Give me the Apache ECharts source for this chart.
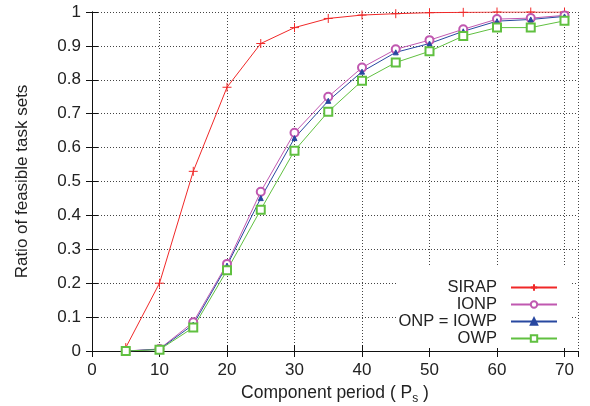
<!DOCTYPE html>
<html>
<head>
<meta charset="utf-8">
<script src="https://cdn.jsdelivr.net/npm/echarts@6/dist/echarts.min.js"></script>
<style>
  html, body { margin: 0; padding: 0; background: #fff; }
  #chart { width: 590px; height: 406px; }
</style>
</head>
<body>
<div id="chart"></div>
<script>
const periods = [5, 10, 15, 20, 25, 30, 35, 40, 45, 50, 55, 60, 65, 70];

const sirap = [0.01, 0.2, 0.53, 0.778, 0.907, 0.954, 0.981, 0.991, 0.995, 0.998, 0.999, 1, 1, 1];
const ionp = [0, 0.006, 0.085, 0.257, 0.47, 0.644, 0.75, 0.836, 0.89, 0.917, 0.949, 0.979, 0.982, 0.99];
const onpIowp = [0, 0.005, 0.078, 0.252, 0.451, 0.628, 0.738, 0.824, 0.881, 0.907, 0.943, 0.973, 0.978, 0.987];
const owp = [0, 0.004, 0.069, 0.238, 0.417, 0.591, 0.706, 0.797, 0.851, 0.884, 0.929, 0.954, 0.954, 0.974];

const seriesNames = ["SIRAP", "IONP", "ONP = IOWP", "OWP"];
const seriesColors = ["#f02828", "#c058b0", "#2848a0", "#60c040"];

const FONT = "Liberation Sans";
const TEXT_COLOR = "#222";

// '+' marker like gnuplot
const PLUS = "path://M5,0L5,10M0,5L10,5";

const toPairs = (values) => values.map((v, i) => [periods[i], v]);

const chart = echarts.init(document.getElementById("chart"), null, { renderer: "canvas" });

const borderAxis = {
  axisLine: { show: true, lineStyle: { color: "#111", width: 1 } },
  axisTick: { show: true, inside: true, length: 6, lineStyle: { color: "#111" } },
  splitLine: { show: false },
};

const gridLine = { show: true, lineStyle: { color: "#444", width: 1, type: [1, 2] } };

const makeSeries = (name, values, idx, symbol, size) => ({
  name,
  type: "line",
  data: toPairs(values),
  symbol,
  symbolSize: size,
  showSymbol: true,
  lineStyle: { color: seriesColors[idx], width: 1 },
  itemStyle: {
    color: seriesColors[idx],
    borderColor: seriesColors[idx],
    borderWidth: 1,
  },
  emphasis: { disabled: true },
  animation: false,
  z: 3,
});

const option = {
  backgroundColor: "#fff",
  animation: false,
  grid: { left: 92, right: 12, top: 12, bottom: 55, containLabel: false, outerBoundsMode: "none" },
  legend: {
    orient: "vertical",
    align: "right",
    right: 20,
    bottom: 58,
    padding: [12, 12, 1, 2],
    backgroundColor: "#fff",
    itemGap: 0,
    itemWidth: 46,
    itemHeight: 8,
    data: seriesNames,
    textStyle: {
      fontFamily: FONT,
      fontSize: 16.5,
      color: TEXT_COLOR,
      lineHeight: 17,
      padding: [0, 9, 0, 0],
    },
    z: 5,
  },
  xAxis: [
    {
      type: "value",
      min: 0,
      max: 72,
      interval: 10,
      position: "bottom",
      name: "Component period ( P{sub|s} )",
      nameLocation: "middle",
      nameGap: 29,
      nameTextStyle: {
        fontFamily: FONT,
        fontSize: 17.5,
        color: TEXT_COLOR,
        rich: { sub: { fontFamily: FONT, fontSize: 12, color: TEXT_COLOR, padding: [12, 0, 0, 0] } },
      },
      ...borderAxis,
      axisLabel: { fontFamily: FONT, fontSize: 17, color: TEXT_COLOR, margin: 11, showMaxLabel: false },
      splitLine: gridLine,
    },
    {
      type: "value",
      min: 0,
      max: 72,
      interval: 10,
      position: "top",
      ...borderAxis,
      axisLabel: { show: false },
    },
  ],
  yAxis: [
    {
      type: "value",
      min: 0,
      max: 1,
      interval: 0.1,
      position: "left",
      name: "Ratio of feasible task sets",
      nameLocation: "middle",
      nameGap: 61,
      nameTextStyle: { fontFamily: FONT, fontSize: 17, color: TEXT_COLOR },
      ...borderAxis,
      axisLabel: { fontFamily: FONT, fontSize: 17, color: TEXT_COLOR, margin: 11 },
      splitLine: gridLine,
    },
    {
      type: "value",
      min: 0,
      max: 1,
      interval: 0.1,
      position: "right",
      ...borderAxis,
      axisLabel: { show: false },
    },
  ],
  series: [
    makeSeries(seriesNames[0], sirap, 0, PLUS, 9),
    makeSeries(seriesNames[1], ionp, 1, "emptyCircle", 8),
    makeSeries(seriesNames[2], onpIowp, 2, "triangle", 5),
    makeSeries(seriesNames[3], owp, 3, "emptyRect", 8),
  ],
};

chart.setOption(option);
</script>
</body>
</html>
